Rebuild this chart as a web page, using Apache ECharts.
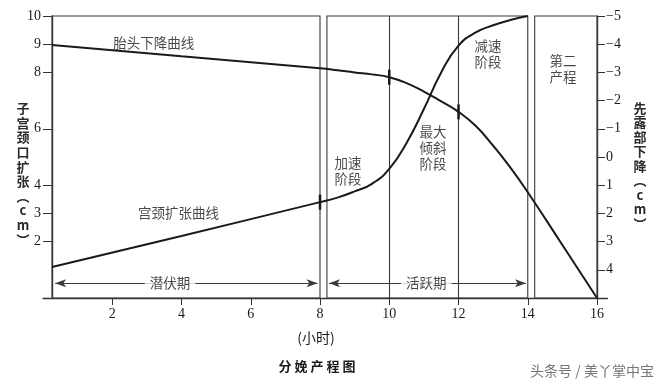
<!DOCTYPE html>
<html><head><meta charset="utf-8">
<script src="https://cdn.jsdelivr.net/npm/echarts@6/dist/echarts.min.js"></script>
<style>html,body{margin:0;padding:0;background:#fff}#c{width:667px;height:387px}</style>
</head><body><div id="c"></div>
<script>
// ---- data ----
const xTicks = [2, 4, 6, 8, 10, 12, 14, 16];
const leftTicks = [2, 3, 4, 6, 8, 9, 10];
const rightTicks = [-5, -4, -3, -2, -1, 0, 1, 2, 3, 4];

// 宫颈扩张曲线 (hours, cm dilation)
const cervixT = [0.26, 4, 8, 8.5, 9, 9.5, 10, 10.5, 11, 11.5, 12, 12.5, 13, 13.5, 14];
const cervixV = [1.1, 2.2, 3.4, 3.56, 3.78, 4.05, 4.58, 5.5, 6.7, 8.0, 8.95, 9.42, 9.67, 9.86, 10];

// 胎头下降曲线 (hours, station cm)
const headT = [0.26, 4, 8, 8.5, 9, 9.5, 10, 10.5, 11, 11.5, 12, 12.5, 13, 13.5, 14, 15, 16];
const headS = [-3.97, -3.57, -3.15, -3.08, -3.0, -2.93, -2.83, -2.62, -2.32, -1.97, -1.6, -1.1, -0.4, 0.38, 1.25, 3.12, 5];

// short marks on curves
const cervixMarkT = [8], cervixMarkV = [3.4];
const headMarkT = [10, 12], headMarkS = [-2.83, -1.6];

// phase boxes [start, end] in hours
const boxStart = [0.26, 8.2, 14.2];
const boxEnd = [8, 14, 16];
const innerLines = [10, 12];

// period arrows
const periodText = ['潜伏期', '活跃期'];
const periodStart = [0.35, 8.26];
const periodEnd = [7.93, 13.95];
const periodMid = [3.67, 11.07];
const periodLevel = 0.52;

// annotations
const noteText = ['胎头下降曲线', '宫颈扩张曲线', '加速\n阶段', '最大\n倾斜\n阶段', '减速\n阶段', '第二\n产程'];
const noteT = [3.2, 3.91, 8.81, 11.26, 12.85, 15.02];
const noteV = [9.04, 3.01, 4.5, 5.32, 8.65, 8.12];

// ---- chart ----
const serif = '"Liberation Serif","DejaVu Serif",serif';
const cjk = '"Noto Sans CJK SC","Noto Sans",sans-serif';
const ink = '#1a1a1a';
const boxCol = '#3a3a3a';

const chart = echarts.init(document.getElementById('c'), null, {renderer: 'canvas'});

const boxData = boxStart.map((s, i) => [{xAxis: s, yAxis: 0}, {xAxis: boxEnd[i], yAxis: 10}]);
const vLines = innerLines.map(t => [{coord: [t, 0]}, {coord: [t, 10]}]);
const arrows = periodStart.map((s, i) => [
  {coord: [s, periodLevel], symbol: 'arrow', symbolSize: [6, 11]},
  {coord: [periodEnd[i], periodLevel], symbol: 'arrow', symbolSize: [6, 11]}
]);

chart.setOption({
  animation: false,
  backgroundColor: '#fff',
  grid: {left: 43, right: 59.6, top: 16, bottom: 89},
  xAxis: {
    type: 'value', min: 0, max: 16.3,
    axisLine: {show: true, onZero: false, lineStyle: {color: '#333', width: 1.4}},
    axisTick: {show: true, customValues: xTicks, length: 7, lineStyle: {color: '#333', width: 1}},
    axisLabel: {customValues: xTicks, margin: 9, fontFamily: serif, fontSize: 14, color: ink},
    splitLine: {show: false}
  },
  yAxis: [{
    type: 'value', position: 'left', min: 0, max: 10, offset: -9,
    axisLine: {show: true, onZero: false, lineStyle: {color: '#333', width: 1.4}},
    axisTick: {show: true, customValues: leftTicks, length: 9, lineStyle: {color: '#333', width: 1}},
    axisLabel: {customValues: leftTicks, margin: 11, fontFamily: serif, fontSize: 14, color: ink},
    splitLine: {show: false}
  }, {
    type: 'value', position: 'right', min: -5, max: 5, inverse: true, offset: -10.4,
    axisLine: {show: true, onZero: false, lineStyle: {color: '#333', width: 1.4}},
    axisTick: {show: true, customValues: rightTicks, length: 8, lineStyle: {color: '#333', width: 1}},
    axisLabel: {customValues: rightTicks, margin: 9, fontFamily: serif, fontSize: 14, color: ink,
      formatter: v => v < 0 ? '\u2212' + (-v) : String(v)},
    splitLine: {show: false}
  }],
  series: [{
    name: '宫颈扩张曲线', type: 'line', yAxisIndex: 0, z: 5,
    data: cervixT.map((t, i) => [t, cervixV[i]]),
    smooth: 0.5, symbol: 'none',
    lineStyle: {color: ink, width: 2},
    markArea: {
      silent: true,
      itemStyle: {color: 'rgba(0,0,0,0)', borderColor: boxCol, borderWidth: 1.1},
      label: {show: false},
      data: boxData
    },
    markLine: {
      silent: true, symbol: ['none', 'none'],
      label: {show: false},
      lineStyle: {color: boxCol, width: 1.1, type: 'solid'},
      emphasis: {disabled: true},
      data: vLines.concat(arrows)
    },
    markPoint: {
      silent: true, symbol: 'rect', symbolSize: [2.5, 15],
      itemStyle: {color: ink}, label: {show: false},
      data: cervixMarkT.map((t, i) => ({coord: [t, cervixMarkV[i]]}))
    }
  }, {
    name: '胎头下降曲线', type: 'line', yAxisIndex: 1, z: 5,
    data: headT.map((t, i) => [t, headS[i]]),
    smooth: 0.5, symbol: 'none',
    lineStyle: {color: ink, width: 2},
    markPoint: {
      silent: true, symbol: 'rect', symbolSize: [2.5, 15],
      itemStyle: {color: ink}, label: {show: false},
      data: headMarkT.map((t, i) => ({coord: [t, headMarkS[i]]}))
    }
  }, {
    name: 'notes', type: 'scatter', yAxisIndex: 0, z: 8, silent: true,
    symbolSize: 0,
    data: noteT.map((t, i) => [t, noteV[i], noteText[i]]),
    label: {
      show: true, position: 'inside', formatter: p => p.data[2],
      fontFamily: cjk, fontSize: 13.5, lineHeight: 16, color: ink
    }
  }, {
    name: 'periods', type: 'scatter', yAxisIndex: 0, z: 9, silent: true,
    symbolSize: 0,
    data: periodMid.map((t, i) => [t, periodLevel, periodText[i]]),
    label: {
      show: true, position: 'inside', formatter: p => p.data[2],
      fontFamily: cjk, fontSize: 13.5, color: ink,
      backgroundColor: '#fff', padding: [1, 5]
    }
  }],
  graphic: [{
    type: 'text', x: 23, y: 174, silent: true,
    style: {text: '子\n宫\n颈\n口\n扩\n张\n︵\nc\nm\n︶', align: 'center', verticalAlign: 'middle',
      font: 'bold 13px "Noto Sans CJK SC"', lineHeight: 14.6, fill: '#2a2a2a'}
  }, {
    type: 'text', x: 640, y: 166, silent: true,
    style: {text: '先\n露\n部\n下\n降\n︵\nc\nm\n︶', align: 'center', verticalAlign: 'middle',
      font: 'bold 13px "Noto Sans CJK SC"', lineHeight: 14.5, fill: '#2a2a2a'}
  }, {
    type: 'text', x: 316, y: 338, silent: true,
    style: {text: '(小时)', align: 'center', verticalAlign: 'middle',
      font: '14px "Noto Sans CJK SC"', fill: ink}
  }, {
    type: 'text', x: 317, y: 366, silent: true,
    style: {text: '分 娩 产 程 图', align: 'center', verticalAlign: 'middle',
      font: 'bold 13px "Noto Sans CJK SC"', fill: ink}
  }, {
    type: 'text', x: 592, y: 371, silent: true,
    style: {text: '头条号 / 美丫掌中宝', align: 'center', verticalAlign: 'middle',
      font: '14px "Noto Sans CJK SC"', fill: '#777'}
  }]
});
</script>
</body></html>
